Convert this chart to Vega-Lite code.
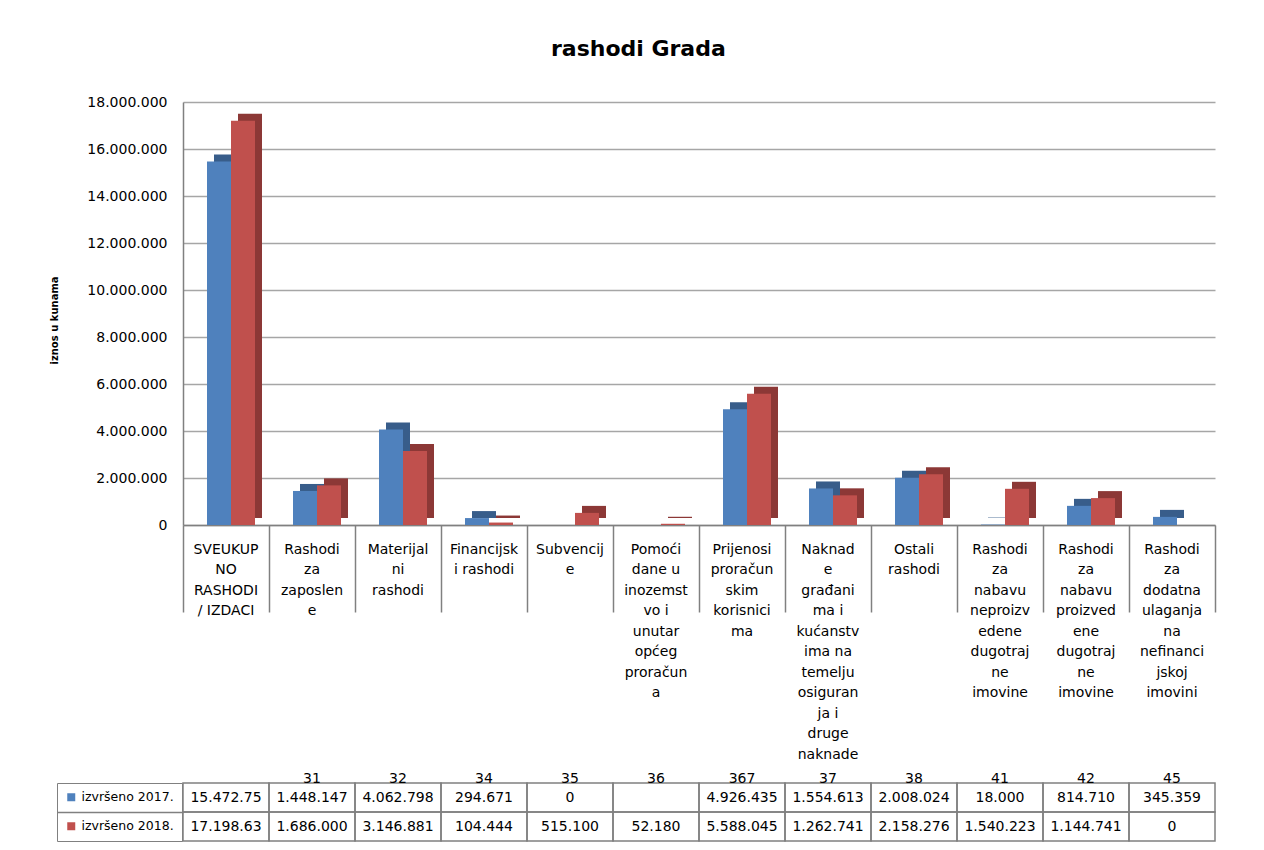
{
  "$schema": "https://vega.github.io/schema/vega-lite/v6.json",
  "background": "white",
  "autosize": {"type": "pad"},
  "padding": {"left": 49, "top": 38, "right": 45, "bottom": 6},
  "title": {"text": "rashodi Grada", "fontSize": 22, "fontWeight": "bold", "font": "DejaVu Sans", "color": "black", "anchor": "middle", "frame": "bounds", "offset": 34, "dx": 6},
  "data": {"values": [
    {"naziv": "SVEUKUP\nNO\nRASHODI\n/ IZDACI", "kod": null, "godina": "2017", "iznos": 15472750},
    {"naziv": "SVEUKUP\nNO\nRASHODI\n/ IZDACI", "kod": null, "godina": "2018", "iznos": 17198630},
    {"naziv": "Rashodi\nza\nzaposlen\ne", "kod": "31", "godina": "2017", "iznos": 1448147},
    {"naziv": "Rashodi\nza\nzaposlen\ne", "kod": "31", "godina": "2018", "iznos": 1686000},
    {"naziv": "Materijal\nni\nrashodi", "kod": "32", "godina": "2017", "iznos": 4062798},
    {"naziv": "Materijal\nni\nrashodi", "kod": "32", "godina": "2018", "iznos": 3146881},
    {"naziv": "Financijsk\ni rashodi", "kod": "34", "godina": "2017", "iznos": 294671},
    {"naziv": "Financijsk\ni rashodi", "kod": "34", "godina": "2018", "iznos": 104444},
    {"naziv": "Subvencij\ne", "kod": "35", "godina": "2017", "iznos": 0},
    {"naziv": "Subvencij\ne", "kod": "35", "godina": "2018", "iznos": 515100},
    {"naziv": "Pomoći\ndane u\ninozemst\nvo i\nunutar\nopćeg\nproračun\na", "kod": "36", "godina": "2017", "iznos": null},
    {"naziv": "Pomoći\ndane u\ninozemst\nvo i\nunutar\nopćeg\nproračun\na", "kod": "36", "godina": "2018", "iznos": 52180},
    {"naziv": "Prijenosi\nproračun\nskim\nkorisnici\nma", "kod": "367", "godina": "2017", "iznos": 4926435},
    {"naziv": "Prijenosi\nproračun\nskim\nkorisnici\nma", "kod": "367", "godina": "2018", "iznos": 5588045},
    {"naziv": "Naknad\ne\ngrađani\nma i\nkućanstv\nima na\ntemelju\nosiguran\nja i\ndruge\nnaknade", "kod": "37", "godina": "2017", "iznos": 1554613},
    {"naziv": "Naknad\ne\ngrađani\nma i\nkućanstv\nima na\ntemelju\nosiguran\nja i\ndruge\nnaknade", "kod": "37", "godina": "2018", "iznos": 1262741},
    {"naziv": "Ostali\nrashodi", "kod": "38", "godina": "2017", "iznos": 2008024},
    {"naziv": "Ostali\nrashodi", "kod": "38", "godina": "2018", "iznos": 2158276},
    {"naziv": "Rashodi\nza\nnabavu\nneproizv\nedene\ndugotraj\nne\nimovine", "kod": "41", "godina": "2017", "iznos": 18000},
    {"naziv": "Rashodi\nza\nnabavu\nneproizv\nedene\ndugotraj\nne\nimovine", "kod": "41", "godina": "2018", "iznos": 1540223},
    {"naziv": "Rashodi\nza\nnabavu\nproizved\nene\ndugotraj\nne\nimovine", "kod": "42", "godina": "2017", "iznos": 814710},
    {"naziv": "Rashodi\nza\nnabavu\nproizved\nene\ndugotraj\nne\nimovine", "kod": "42", "godina": "2018", "iznos": 1144741},
    {"naziv": "Rashodi\nza\ndodatna\nulaganja\nna\nnefinanci\njskoj\nimovini", "kod": "45", "godina": "2017", "iznos": 345359},
    {"naziv": "Rashodi\nza\ndodatna\nulaganja\nna\nnefinanci\njskoj\nimovini", "kod": "45", "godina": "2018", "iznos": 0}
  ]},
  "spacing": 0,
  "bounds": "flush",
  "vconcat": [
    {
      "width": 1032,
      "height": 423,
      "encoding": {
        "x": {"field": "naziv", "type": "nominal", "sort": null,
          "scale": {"paddingInner": 0, "paddingOuter": 0},
          "axis": {"title": null, "orient": "bottom", "ticks": false, "tickSize": 0, "labelPadding": 17,
            "labelExpr": "split(datum.label, '\\n')", "labelFontSize": 14, "labelLineHeight": 20.5,
            "labelBaseline": "top", "labelAngle": 0, "labelColor": "black", "labelOverlap": false,
            "labelBound": false, "domainColor": "#808080", "domainWidth": 1.5}},
        "y": {"field": "iznos", "type": "quantitative",
          "scale": {"domain": [0, 18000000], "nice": false},
          "axis": {"title": "iznos u kunama", "values": [0, 2000000, 4000000, 6000000, 8000000, 10000000, 12000000, 14000000, 16000000, 18000000],
            "format": ",d", "grid": true, "gridColor": "#a6a6a6", "gridWidth": 1.5, "ticks": false, "labelPadding": 16,
            "labelFontSize": 14, "labelColor": "black", "domainColor": "#808080", "domainWidth": 1.5,
            "titleFontSize": 10, "titleFontWeight": "bold", "titleColor": "black", "titleX": -124, "titleY": 218}}
      },
      "layer": [
        {
          "transform": [{"filter": "datum.godina === '2018'"}],
          "mark": {"type": "bar", "width": 24, "xOffset": 24, "yOffset": -7, "color": "#8c3836"}
        },
        {
          "transform": [{"filter": "datum.godina === '2017'"}],
          "mark": {"type": "bar", "width": 24, "xOffset": 0, "yOffset": -7, "color": "#385d8a"}
        },
        {
          "transform": [{"filter": "datum.godina === '2018'"}],
          "mark": {"type": "bar", "width": 24, "xOffset": 17},
          "encoding": {
            "color": {"field": "godina", "type": "nominal",
              "scale": {"domain": ["2017", "2018"], "range": ["#4f81bd", "#c0504d"]},
              "legend": {"title": null, "orient": "none", "legendX": -126, "legendY": 681, "direction": "vertical",
                "symbolType": "square", "symbolSize": 64, "symbolStrokeWidth": 0, "labelFontSize": 12.5,
                "labelColor": "black", "labelOffset": 4, "padding": 8, "rowPadding": 16, "strokeColor": "#808080",
                "labelExpr": "'izvršeno ' + datum.label + '.'"}}
          }
        },
        {
          "transform": [{"filter": "datum.godina === '2017'"}],
          "mark": {"type": "bar", "width": 24, "xOffset": -7},
          "encoding": {
            "color": {"field": "godina", "type": "nominal",
              "scale": {"domain": ["2017", "2018"], "range": ["#4f81bd", "#c0504d"]},
              "legend": {"title": null, "orient": "none", "legendX": -126, "legendY": 681, "direction": "vertical",
                "symbolType": "square", "symbolSize": 64, "symbolStrokeWidth": 0, "labelFontSize": 12.5,
                "labelColor": "black", "labelOffset": 4, "padding": 8, "rowPadding": 16, "strokeColor": "#808080",
                "labelExpr": "'izvršeno ' + datum.label + '.'"}}
          }
        }
      ]
    },
    {
      "width": 1032,
      "height": 316,
      "encoding": {
        "x": {"field": "naziv", "type": "nominal", "sort": null,
          "scale": {"paddingInner": 0, "paddingOuter": 0},
          "axis": {"title": null, "labels": false, "ticks": false, "domain": false, "grid": true,
            "tickBand": "extent", "gridColor": "#808080", "gridWidth": 1.5}}
      },
      "layer": [
        {
          "mark": {"type": "rect", "fill": "white", "fillOpacity": 0, "stroke": "#808080", "strokeWidth": 1.5},
          "encoding": {
            "y": {"field": "godina", "type": "nominal",
              "scale": {"domain": ["kod", "2017", "2018"], "range": [229, 316], "paddingInner": 0, "paddingOuter": 0},
              "axis": {"title": null, "labels": false, "domain": false, "values": ["2018"], "bandPosition": 0,
                "tickExtra": false, "tickSize": 126, "tickColor": "#808080", "tickWidth": 1.5}}
          }
        },
        {
          "transform": [{"filter": "isValid(datum.iznos)"}],
          "mark": {"type": "text", "fontSize": 14, "limit": 75, "ellipsis": "\u200b", "color": "black"},
          "encoding": {
            "y": {"field": "godina", "type": "nominal"},
            "text": {"field": "iznos", "type": "quantitative", "format": ",d"}
          }
        },
        {
          "transform": [{"filter": "datum.godina === '2017' && isValid(datum.kod)"}],
          "mark": {"type": "text", "fontSize": 14, "baseline": "top", "dy": 3, "color": "black"},
          "encoding": {
            "y": {"datum": "kod"},
            "text": {"field": "kod", "type": "nominal"}
          }
        }
      ]
    }
  ],
  "config": {
    "font": "DejaVu Sans",
    "view": {"stroke": null},
    "locale": {"number": {"decimal": ",", "thousands": ".", "grouping": [3], "currency": ["", " kn"]}}
  }
}
